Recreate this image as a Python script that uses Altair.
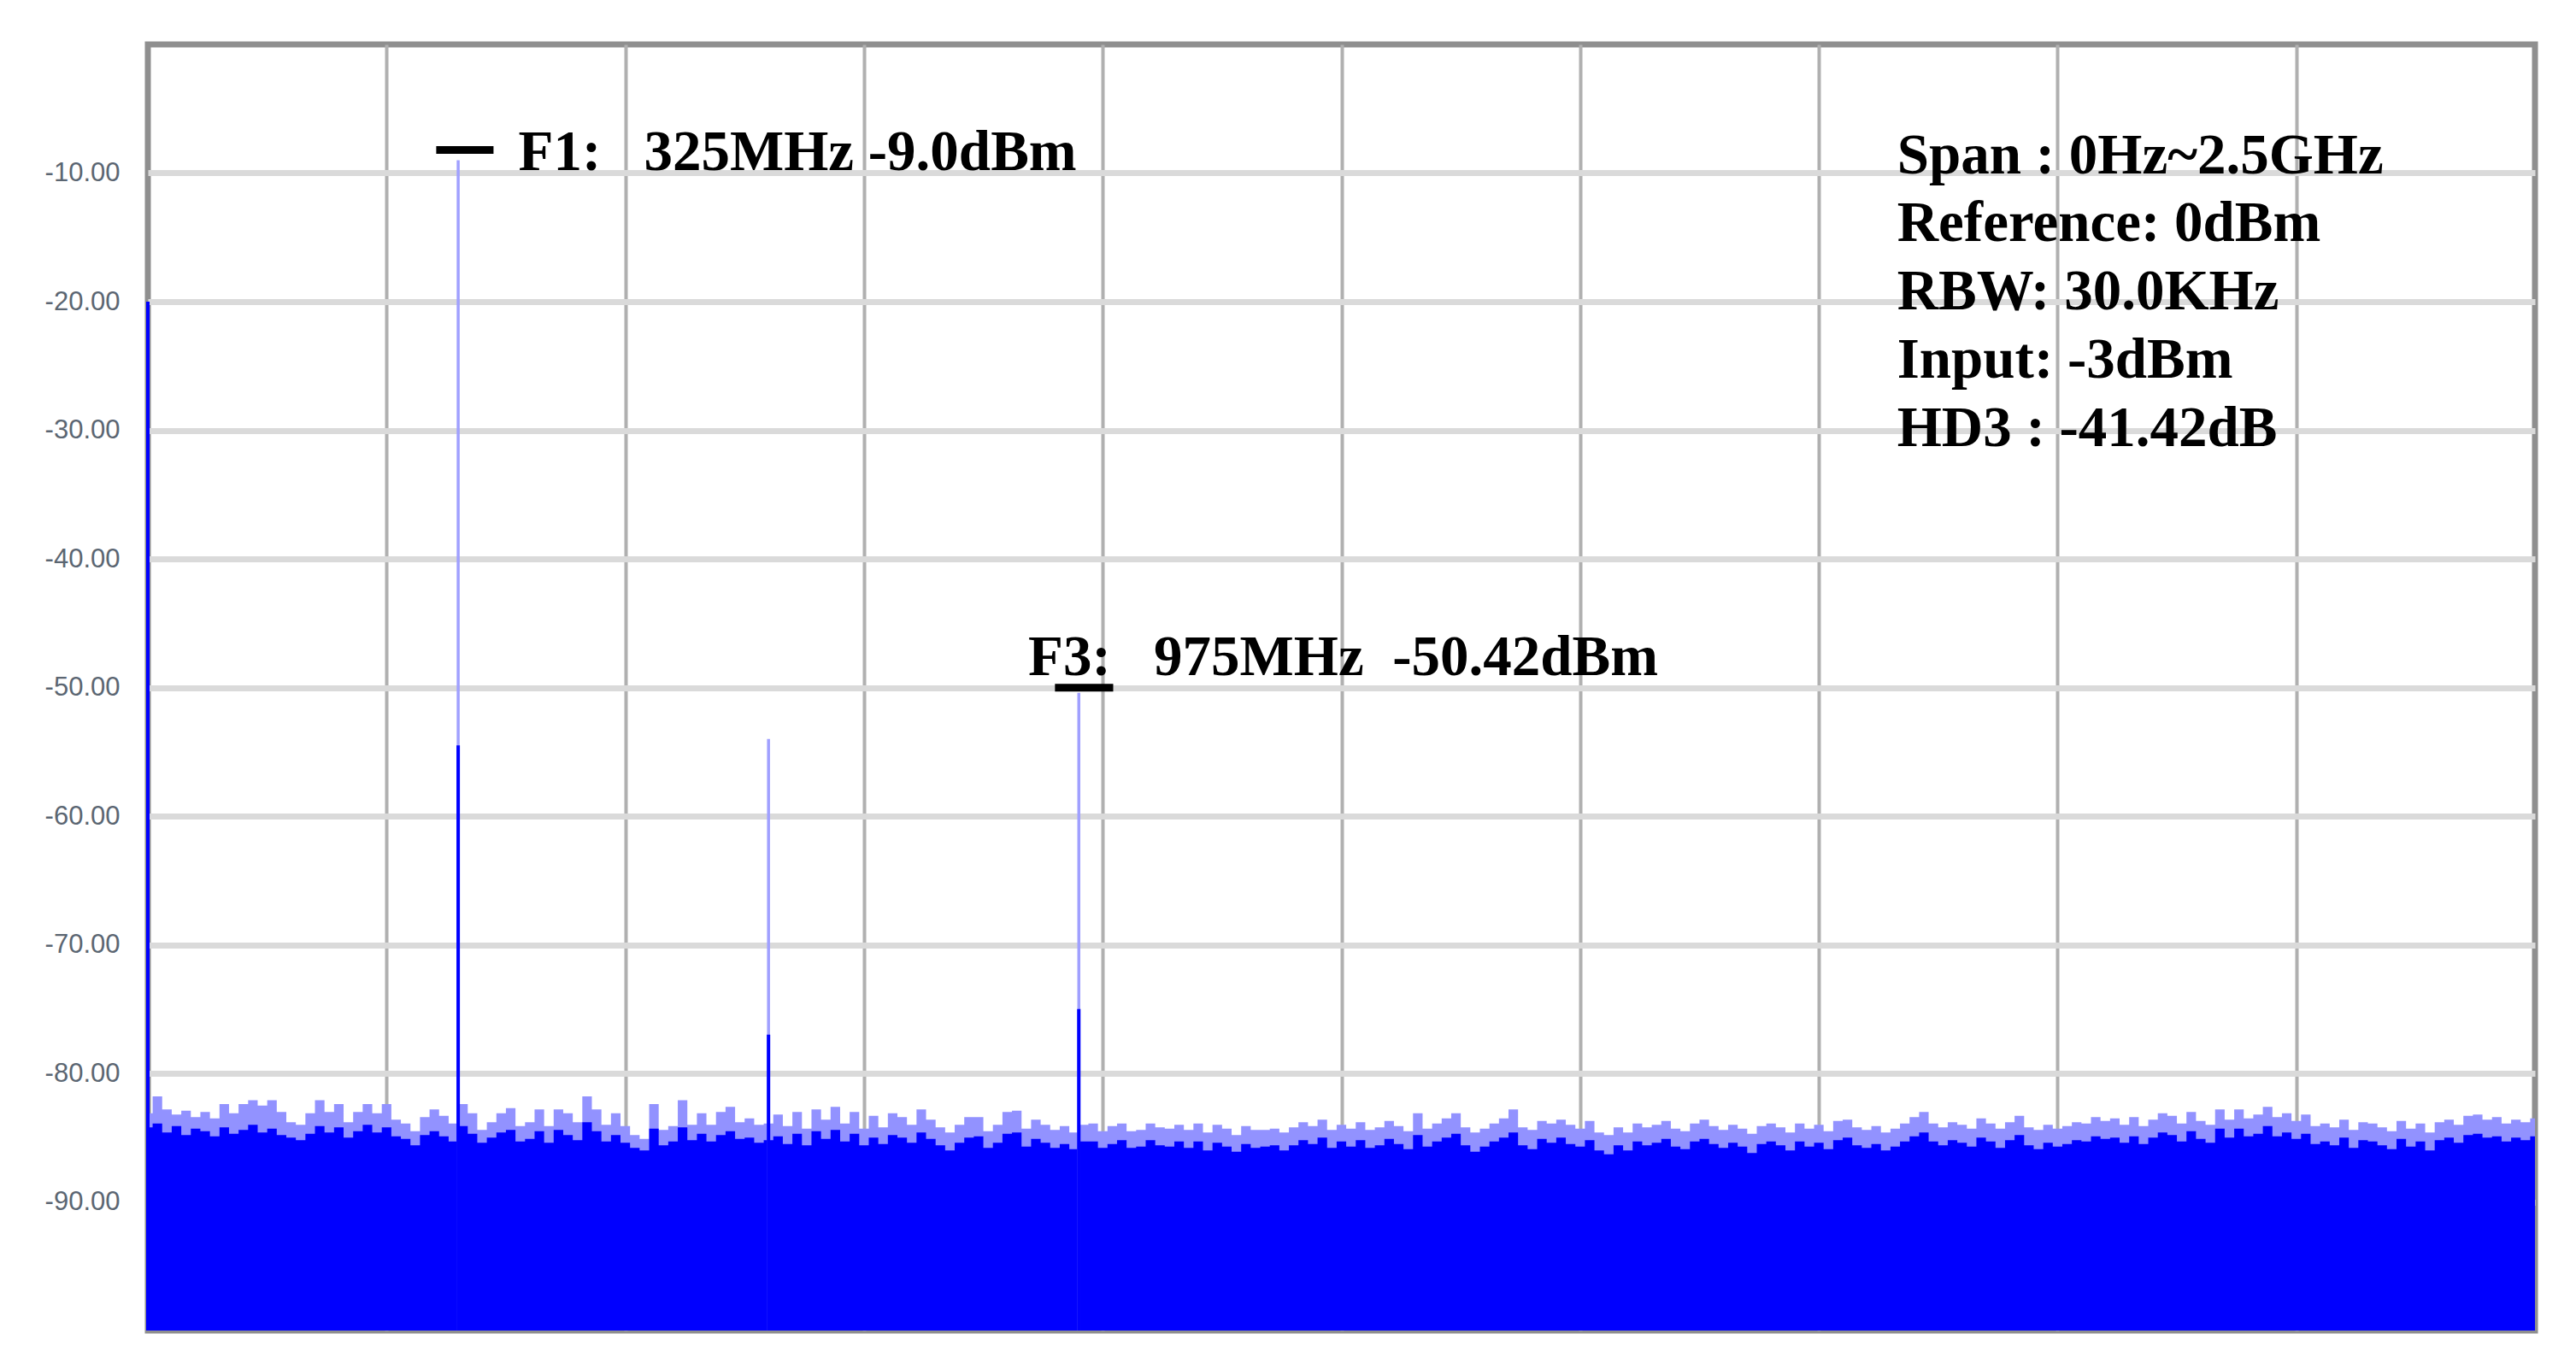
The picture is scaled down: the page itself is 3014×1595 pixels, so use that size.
import altair as alt
import pandas as pd

# ---------------- data ----------------
freq_mhz = list(range(0, 2501, 10))

maxhold_db = [
    -83.1, -81.8, -82.8, -83.2, -82.9, -83.4, -83.0, -83.5, -82.4, -83.1,
    -82.4, -82.1, -82.5, -82.1, -83.0, -83.8, -84.0, -83.1, -82.1, -83.0,
    -82.4, -83.8, -83.0, -82.4, -83.1, -82.4, -83.6, -83.9, -84.5, -83.4,
    -82.8, -83.3, -83.9, -82.4, -83.1, -84.4, -83.8, -83.1, -82.7, -84.1,
    -83.8, -82.8, -84.1, -82.8, -83.1, -83.8, -81.8, -82.8, -84.0, -83.1,
    -84.1, -84.8, -85.1, -82.4, -84.4, -84.1, -82.1, -84.0, -83.1, -84.0,
    -83.0, -82.6, -83.8,
    -83.5, -84.0, -83.9, -83.2, -84.1, -83.0, -84.3, -82.8, -83.6, -82.6,
    -83.9, -83.0, -84.3, -83.3, -84.2, -83.1, -83.4, -84.0, -82.8, -83.6,
    -84.2, -84.6, -84.0, -83.4, -83.4, -84.5, -84.0, -83.0, -82.9, -84.3,
    -83.6, -84.0, -84.4, -84.1, -84.6, -84.0, -83.9, -84.5, -84.1, -83.9,
    -84.5, -84.4, -83.9, -84.2, -84.3, -84.0, -84.4, -83.9, -84.6, -84.0,
    -84.3, -84.8, -84.1, -84.4, -84.4, -84.3, -84.6, -84.2, -83.8, -84.1,
    -83.6, -84.4, -84.0,
    -84.3, -83.8, -84.4, -84.2, -83.7, -84.1, -84.5, -83.1, -84.3, -83.9,
    -83.5, -83.1, -84.2, -84.6, -84.3, -83.9, -83.5, -82.8, -84.2, -84.4,
    -83.7, -83.9, -83.6, -84.0, -84.3, -83.7, -84.6, -84.8, -84.2, -84.6,
    -83.9, -84.2, -84.0, -83.7, -84.3, -84.5, -83.9, -83.6, -84.1, -84.4,
    -84.0, -84.3, -84.7, -84.1, -83.9, -84.2, -84.6, -83.9, -84.3, -84.0,
    -84.5, -83.7, -83.6, -84.2, -84.4, -84.1, -84.6, -84.3, -83.9, -83.4,
    -83.0, -83.9,
    -84.2, -83.8, -84.0, -84.3, -83.5, -83.9, -84.3, -83.8, -83.3, -84.2,
    -84.4, -84.0, -84.3, -84.1, -83.8, -83.9, -83.4, -83.7, -83.5, -84.0,
    -83.4, -84.1, -83.6, -83.1, -83.3, -83.9, -83.0, -83.7, -84.0, -82.8,
    -83.6, -82.8, -83.5, -83.2, -82.6, -83.4, -83.1, -83.7, -83.2, -84.1,
    -83.9, -84.2, -83.6, -84.4, -83.8, -83.9, -84.2, -84.5, -83.7, -84.3,
    -83.9, -84.6, -83.8, -83.6, -84.0, -83.3, -83.2, -83.6, -83.4, -83.9,
    -83.6, -83.8, -83.5,
]

current_db = [
    -84.2, -83.9, -84.6, -84.1, -84.8, -84.3, -84.5, -84.9, -84.2, -84.7,
    -84.4, -84.0, -84.6, -84.3, -84.8, -85.0, -85.2, -84.7, -84.1, -84.6,
    -84.2, -85.0, -84.5, -84.0, -84.6, -84.2, -84.9, -85.1, -85.6, -84.8,
    -84.5, -84.9, -85.3, -84.1, -84.7, -85.4, -85.0, -84.6, -84.4, -85.3,
    -85.1, -84.5, -85.4, -84.4, -84.8, -85.2, -83.8, -84.5, -85.3, -84.8,
    -85.4, -85.8, -86.0, -84.3, -85.6, -85.3, -84.2, -85.2, -84.7, -85.3,
    -84.8, -84.5, -85.1,
    -85.0, -85.4, -85.2, -84.9, -85.5, -84.7, -85.6, -84.5, -85.1, -84.4,
    -85.3, -84.7, -85.6, -85.0, -85.5, -84.8, -85.0, -85.4, -84.6, -85.1,
    -85.6, -86.0, -85.4, -85.0, -84.9, -85.8, -85.4, -84.7, -84.6, -85.7,
    -85.1, -85.4, -85.8, -85.5, -85.9, -85.3, -85.3, -85.8, -85.5, -85.2,
    -85.8, -85.7, -85.2, -85.6, -85.7, -85.3, -85.8, -85.3, -86.0, -85.4,
    -85.7, -86.1, -85.5, -85.8, -85.7, -85.6, -86.0, -85.6, -85.2, -85.5,
    -85.0, -85.8, -85.3,
    -85.7, -85.2, -85.8, -85.6, -85.1, -85.5, -85.9, -84.8, -85.7, -85.3,
    -85.0, -84.7, -85.6, -86.1, -85.7, -85.3, -85.0, -84.6, -85.6, -85.9,
    -85.1, -85.4, -85.0, -85.5, -85.7, -85.2, -86.0, -86.3, -85.6, -86.0,
    -85.3, -85.6, -85.4, -85.1, -85.7, -85.9, -85.3, -85.1, -85.5, -85.8,
    -85.4, -85.7, -86.2, -85.5, -85.3, -85.6, -86.0, -85.3, -85.7, -85.4,
    -85.9, -85.2, -85.0, -85.6, -85.8, -85.5, -86.0, -85.7, -85.3, -84.9,
    -84.6, -85.3,
    -85.6, -85.2, -85.4, -85.7, -85.0, -85.3, -85.8, -85.2, -84.8, -85.6,
    -85.9, -85.4, -85.7, -85.5, -85.2, -85.3, -84.9, -85.1, -85.0, -85.4,
    -84.9, -85.5, -85.0, -84.6, -84.8, -85.3, -84.5, -85.1, -85.4, -84.3,
    -85.0, -84.3, -84.9, -84.7, -84.1, -84.9, -84.6, -85.1, -84.7, -85.5,
    -85.3, -85.6, -85.0, -85.8, -85.2, -85.3, -85.6, -85.9, -85.1, -85.7,
    -85.3, -86.0, -85.2, -85.0, -85.4, -84.8, -84.7, -85.0, -84.9, -85.3,
    -85.0, -85.2, -84.9,
]

spike_freq_mhz = [0, 325, 650, 975]
spike_maxhold_db = [-20.0, -9.0, -54.0, -50.42]
spike_current_db = [-20.0, -54.5, -77.0, -75.0]

y_tick_values = [-10, -20, -30, -40, -50, -60, -70, -80, -90]
x_grid_values = [250, 500, 750, 1000, 1250, 1500, 1750, 2000, 2250]

marker_freq_mhz = [325, 975]
marker_level_db = [-9.0, -50.42]
marker_texts = [
    "F1:\u00a0\u00a0 325MHz -9.0dBm",
    "F3:\u00a0\u00a0 975MHz\u00a0\u00a0-50.42dBm",
]

info_lines = [
    "Span : 0Hz~2.5GHz",
    "Reference: 0dBm",
    "RBW: 30.0KHz",
    "Input: -3dBm",
    "HD3 : -41.42dB",
]

assert len(freq_mhz) == len(maxhold_db) == len(current_db)

# ---------------- tables ----------------
noise = pd.DataFrame({"f": freq_mhz, "maxhold": maxhold_db, "current": current_db})
spikes = pd.DataFrame({"f": spike_freq_mhz, "maxhold": spike_maxhold_db,
                       "current": spike_current_db})

# marker bars and labels anchored to the marked peaks
bars = pd.DataFrame({
    "f1": [marker_freq_mhz[0] - 23, marker_freq_mhz[1] - 25],
    "f2": [marker_freq_mhz[0] + 37, marker_freq_mhz[1] + 36],
    "y": [marker_level_db[0] + 0.8, marker_level_db[1] + 0.4],
})
labels = pd.DataFrame({
    "f": [marker_freq_mhz[0] + 63, marker_freq_mhz[1] - 53],
    "y": [marker_level_db[0] - 0.8, marker_level_db[1] + 1.4],
    "t": marker_texts,
})
info = pd.DataFrame({
    "f": [1832] * len(info_lines),
    "y": [-10.0 - 5.3 * i for i in range(len(info_lines))],
    "t": info_lines,
})

# ---------------- encodings ----------------
X_SCALE = alt.Scale(domain=[0, 2500], nice=False, zero=False)
Y_SCALE = alt.Scale(domain=[-100, 0], nice=False, zero=False)
X_AXIS = alt.Axis(values=x_grid_values, labels=False, ticks=False, domain=False,
                  grid=True, gridColor="#b0b0b0", gridWidth=4, title=None)
Y_AXIS = alt.Axis(values=y_tick_values, ticks=False, domain=False,
                  labelExpr="'-' + format(-datum.value, '.2f')",
                  grid=True, gridColor="#dadada", gridWidth=7, title=None,
                  labelFont="Liberation Sans", labelFontSize=31,
                  labelColor="#5b6672", labelPadding=33)


def X(field):
    return alt.X(f"{field}:Q", scale=X_SCALE, axis=X_AXIS)


def Y(field):
    return alt.Y(f"{field}:Q", scale=Y_SCALE, axis=Y_AXIS)


floor = alt.datum(-100)

max_area = alt.Chart(noise).mark_area(color="#9292ff", interpolate="step").encode(
    x=X("f"), y=Y("maxhold"), y2=floor)
cur_area = alt.Chart(noise).mark_area(color="#0000ff", interpolate="step").encode(
    x=X("f"), y=Y("current"), y2=floor)

max_rules = alt.Chart(spikes).mark_rule(color="#a0a0ff", strokeWidth=3.5).encode(
    x=X("f"), y=Y("maxhold"), y2=floor)
cur_rules = alt.Chart(spikes).mark_rule(color="#0000ff", strokeWidth=4).encode(
    x=X("f"), y=Y("current"), y2=floor)

bar_marks = alt.Chart(bars).mark_rule(color="black", strokeWidth=9, strokeCap="butt").encode(
    x=X("f1"), x2="f2:Q", y=Y("y"))

label_marks = alt.Chart(labels).mark_text(
    align="left", baseline="alphabetic", font="Liberation Serif", fontWeight="bold",
    fontSize=67, color="black").encode(x=X("f"), y=Y("y"), text="t:N")

info_marks = alt.Chart(info).mark_text(
    align="left", baseline="alphabetic", font="Liberation Serif", fontWeight="bold",
    fontSize=67, color="black").encode(x=X("f"), y=Y("y"), text="t:N")

chart = alt.layer(
    max_area, cur_area, max_rules, cur_rules, bar_marks, label_marks, info_marks
).properties(
    width=2793, height=1505,
    autosize=alt.AutoSizeParams(type="none"),
    padding={"left": 165, "top": 44, "right": 30, "bottom": 30},
    background="white",
).configure_view(stroke="#8f8f8f", strokeWidth=7)

chart.save("out.html", embed_options={"renderer": "svg", "actions": False})
